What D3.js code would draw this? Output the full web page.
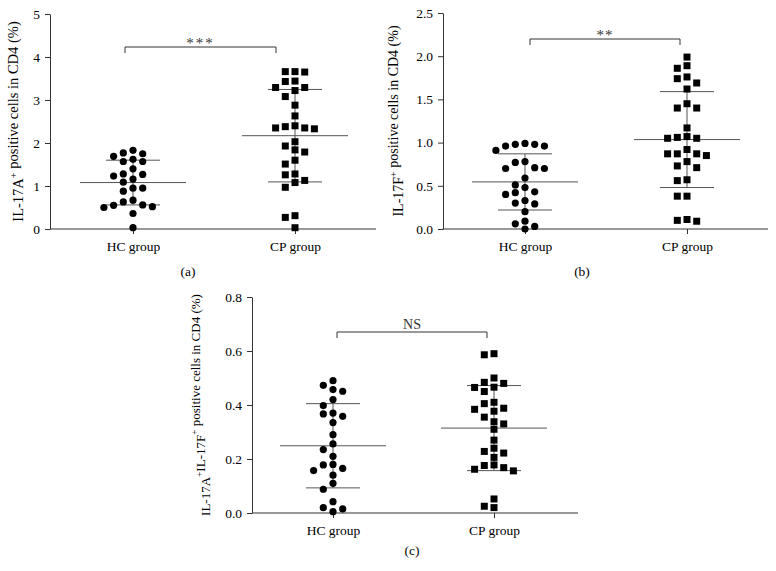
<!DOCTYPE html>
<html lang="en">

<head>
    <meta charset="utf-8">
    <title>IL-17 scatter</title>
    <script src="https://cdn.jsdelivr.net/npm/d3@7"></script>
</head>
<style>
    body {
        margin: 0;
        background: #fff;
    }

    text {
        font-family: "Liberation Serif", "DejaVu Serif", serif;
        fill: #000;
    }
</style>

<body>
    <script>
        // groups
        var groups = ["HC group", "CP group"];

        // (a) IL-17A+ cells in CD4 (%)
        var hcA = [1.83, 1.77, 1.75, 1.69, 1.62, 1.57, 1.57, 1.40, 1.28, 1.27, 1.23, 1.16,
            1.09, 0.95, 0.95, 0.88, 0.67, 0.63, 0.56, 0.55, 0.52, 0.50, 0.36, 0.03];
        var cpA = [3.66, 3.65, 3.66, 3.44, 3.43, 3.29, 3.22, 3.29, 3.08, 2.88, 2.63,
            2.38, 2.35, 2.33, 2.35, 2.40, 2.03, 1.93, 1.84, 1.79, 1.60, 1.51,
            1.28, 1.26, 1.13, 1.08, 0.97, 0.31, 0.27, 0.03];
        var meanA = [1.08, 2.17];
        var sdA = [0.52, 1.075];

        // (b) IL-17F+ cells in CD4 (%)
        var hcF = [0.99, 0.98, 0.96, 0.91, 0.96, 0.98, 0.78, 0.71, 0.70, 0.70, 0.77,
            0.59, 0.51, 0.48, 0.42, 0.40, 0.43, 0.33, 0.29, 0.30, 0.20,
            0.06, 0.00, 0.03, 0.09];
        var cpF = [1.99, 1.89, 1.86, 1.76, 1.74, 1.69, 1.62, 1.45, 1.40, 1.40, 1.17,
            1.07, 1.05, 1.05, 1.06, 0.92, 0.87, 0.85, 0.87, 0.78, 0.87,
            0.73, 0.71, 0.56, 0.57, 0.38, 0.38, 0.11, 0.09, 0.10];
        var meanF = [0.545, 1.035];
        var sdF = [0.325, 0.555];

        // (c) IL-17A+IL-17F+ cells in CD4 (%)
        var hcAF = [0.49, 0.473, 0.457, 0.451, 0.42, 0.398, 0.367, 0.37, 0.358, 0.335,
            0.29, 0.256, 0.235, 0.21, 0.18, 0.165, 0.178, 0.157, 0.14, 0.11,
            0.088, 0.042, 0.02, 0.015, 0.005];
        var cpAF = [0.59, 0.586, 0.50, 0.484, 0.48, 0.465, 0.466, 0.45, 0.41, 0.405,
            0.388, 0.384, 0.377, 0.355, 0.338, 0.33, 0.31, 0.27, 0.24, 0.228,
            0.222, 0.206, 0.178, 0.176, 0.168, 0.162, 0.156, 0.052, 0.025, 0.02];
        var meanAF = [0.249, 0.3145];
        var sdAF = [0.156, 0.1575];

        var ticksA = [0, 1, 2, 3, 4, 5];
        var ticksF = [0, 0.5, 1.0, 1.5, 2.0, 2.5];
        var ticksAF = [0, 0.2, 0.4, 0.6, 0.8];

        var width = 776, height = 571;

        var svg = d3.select("body")
            .append("svg")
            .attr("width", width)
            .attr("height", height);

        // greedy column placement so markers do not overlap
        function swarm(values, y, minGap) {
            var order = d3.range(values.length).sort((i, j) => values[j] - values[i]);
            var placed = [];
            var slots = [];
            var tries = [0, -1, 1, -2, 2, -3, 3, -4, 4];
            order.forEach(i => {
                var py = y(values[i]);
                for (var s of tries) {
                    if (!placed.some(p => p.slot === s && Math.abs(p.py - py) < minGap)) {
                        slots[i] = s;
                        placed.push({ slot: s, py: py });
                        break;
                    }
                }
            });
            return slots;
        }

        function panel(o) {
            var g = svg.append("g");

            var y = d3.scaleLinear()
                .domain([0, d3.max(o.ticks)])
                .range([o.bottom, o.top]);

            var x = d3.scalePoint()
                .domain(groups)
                .range(o.centers);

            // y axis
            var yAxis = g.append("g")
                .attr("transform", `translate(${o.left},0)`)
                .call(d3.axisLeft(y)
                    .tickValues(o.ticks)
                    .tickFormat(o.fmt)
                    .tickSize(5)
                    .tickSizeOuter(0)
                    .tickPadding(5));
            yAxis.select(".domain").attr("stroke", "#333");
            yAxis.selectAll(".tick line").attr("stroke", "#333");
            yAxis.selectAll(".tick text")
                .attr("font-size", 13.5);

            // x axis
            var xAxis = g.append("g")
                .attr("transform", `translate(0,${o.bottom})`)
                .call(d3.axisBottom(x).tickSize(5).tickPadding(7));
            xAxis.select(".domain").remove();
            xAxis.selectAll(".tick line").attr("stroke", "#333");
            xAxis.selectAll(".tick text")
                .attr("font-size", 13.5);
            g.append("line")
                .attr("x1", o.left).attr("x2", o.right)
                .attr("y1", o.bottom).attr("y2", o.bottom)
                .attr("stroke", "#333");

            // y label
            var lab = g.append("text")
                .attr("transform", `translate(${o.labelX},${(o.top + o.bottom) / 2}) rotate(-90)`)
                .attr("text-anchor", "middle")
                .attr("dominant-baseline", "central")
                .attr("font-size", o.labelSize);
            o.label.forEach(part => {
                if (part.sup) {
                    lab.append("tspan").attr("font-size", o.labelSize * 0.72).attr("dy", -o.labelSize * 0.38).text(part.t);
                    lab.append("tspan").attr("dy", o.labelSize * 0.38).text("");
                } else {
                    lab.append("tspan").text(part.t);
                }
            });

            // mean and SD lines
            var lines = g.append("g").attr("stroke", "#555").attr("stroke-width", 1);
            groups.forEach((grp, i) => {
                var cx = x(grp);
                var m = o.mean[i], s = o.sd[i];
                lines.append("line")
                    .attr("x1", cx - 53).attr("x2", cx + 53)
                    .attr("y1", y(m)).attr("y2", y(m));
                lines.append("line")
                    .attr("x1", cx - 27).attr("x2", cx + 27)
                    .attr("y1", y(m + s)).attr("y2", y(m + s));
                lines.append("line")
                    .attr("x1", cx - 27).attr("x2", cx + 27)
                    .attr("y1", y(m - s)).attr("y2", y(m - s));
                lines.append("line")
                    .attr("x1", cx).attr("x2", cx)
                    .attr("y1", y(m + s)).attr("y2", y(m - s));
            });

            // points
            var step = 9.7;
            var hcSlots = swarm(o.hc, y, 7.5);
            g.append("g").selectAll("circle")
                .data(o.hc)
                .join("circle")
                .attr("cx", (d, i) => x(groups[0]) + hcSlots[i] * step)
                .attr("cy", d => y(d))
                .attr("r", 3.6)
                .attr("fill", "#000");

            var cpSlots = swarm(o.cp, y, 7.5);
            g.append("g").selectAll("path")
                .data(o.cp)
                .join("path")
                .attr("d", d3.symbol(d3.symbolSquare, 49))
                .attr("transform", (d, i) => `translate(${x(groups[1]) + cpSlots[i] * step},${y(d)})`)
                .attr("fill", "#000");

            // significance bracket
            var bx1 = x(groups[0]) + o.br[0], bx2 = x(groups[1]) + o.br[1];
            g.append("path")
                .attr("d", `M${bx1},${o.brY + 6}V${o.brY}H${bx2}V${o.brY + 6}`)
                .attr("fill", "none")
                .attr("stroke", "#333");
            g.append("text")
                .attr("x", (bx1 + bx2) / 2)
                .attr("y", o.brY + o.sigDy)
                .attr("text-anchor", "middle")
                .attr("font-size", o.sigSize)
                .attr("letter-spacing", o.sigSpace)
                .style("fill", "#333")
                .text(o.sig);

            // caption
            g.append("text")
                .attr("x", o.capX)
                .attr("y", o.capY)
                .attr("text-anchor", "middle")
                .attr("font-size", 13.5)
                .text(o.cap);
        }

        panel({
            hc: hcA, cp: cpA, mean: meanA, sd: sdA, ticks: ticksA, fmt: d3.format("d"),
            left: 50, right: 376, top: 14, bottom: 229, centers: [133, 295],
            labelX: 18, labelSize: 14.5,
            label: [{ t: "IL-17A" }, { t: "+", sup: true }, { t: " positive cells in CD4 (%)" }],
            br: [-8, -19], brY: 47, sig: "***", sigDy: 1, sigSize: 15, sigSpace: 2,
            cap: "(a)", capX: 188, capY: 276
        });

        panel({
            hc: hcF, cp: cpF, mean: meanF, sd: sdF, ticks: ticksF, fmt: d3.format(".1f"),
            left: 443, right: 768, top: 13, bottom: 229, centers: [525, 687],
            labelX: 398, labelSize: 14,
            label: [{ t: "IL-17F" }, { t: "+", sup: true }, { t: " positive cells in CD4 (%)" }],
            br: [5, -7], brY: 39, sig: "**", sigDy: 1, sigSize: 15, sigSpace: 1,
            cap: "(b)", capX: 582, capY: 276
        });

        panel({
            hc: hcAF, cp: cpAF, mean: meanAF, sd: sdAF, ticks: ticksAF, fmt: d3.format(".1f"),
            left: 252, right: 578, top: 297, bottom: 513, centers: [333, 494],
            labelX: 205, labelSize: 13,
            label: [{ t: "IL-17A" }, { t: "+", sup: true }, { t: "IL-17F" }, { t: "+", sup: true }, { t: " positive cells in CD4 (%)" }],
            br: [4, -7], brY: 332, sig: "NS", sigDy: -3, sigSize: 14, sigSpace: 0,
            cap: "(c)", capX: 412, capY: 555
        });
    </script>
</body>

</html>
